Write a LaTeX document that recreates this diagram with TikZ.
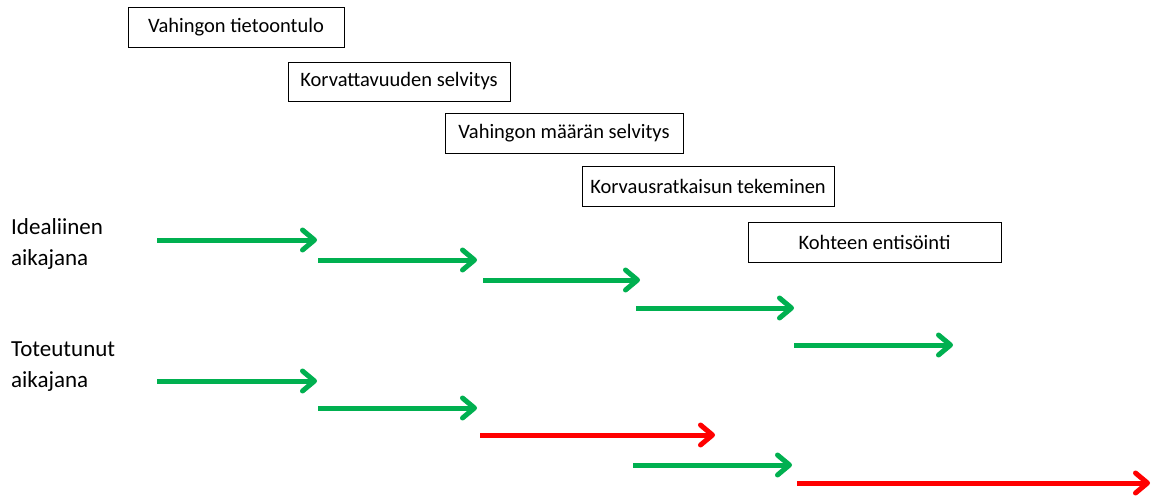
\documentclass[tikz,border=0pt]{standalone}
\usepackage{fontspec}
\setmainfont{Carlito}
\usetikzlibrary{arrows.meta}
\definecolor{ggreen}{RGB}{0,176,80}
\definecolor{rred}{RGB}{255,0,0}
\begin{document}
\begin{tikzpicture}[x=1pt,y=-1pt,
  stepbox/.style={draw=black,line width=0.9pt,inner sep=0pt,font=\fontsize{20.5}{22}\selectfont},
  lbl/.style={anchor=north west,align=left,inner sep=0pt,font=\fontsize{23}{31}\selectfont},
  arr/.style={line width=5pt,-{Straight Barb[length=12pt,width=20pt,round]}},
  ok/.style={arr,draw=ggreen},
  late/.style={arr,draw=rred}]
\useasboundingbox (0,0) rectangle (1156,496);
% boxes
\node[stepbox,minimum width=216pt,minimum height=40pt] (b1) at (236,27.5) {Vahingon tietoontulo};
\node[stepbox,minimum width=222pt,minimum height=39pt] (b2) at (399,81.5) {Korvattavuuden selvitys};
\node[stepbox,minimum width=238pt,minimum height=40pt] (b3) at (564,133) {Vahingon määrän selvitys};
\node[stepbox,minimum width=252pt,minimum height=40pt] (b4) at (708,186) {Korvausratkaisun tekeminen};
\node[stepbox,minimum width=253pt,minimum height=40pt] (b5) at (874.5,242) {Kohteen entisöinti};
% labels
\node[lbl] (l1) at (11,218) {Idealiinen\\aikajana};
\node[lbl] (l2) at (11,342) {Toteutunut\\aikajana};
% ideal timeline
\coordinate (i1s) at (157,240); \coordinate (i1e) at (317,240);
\coordinate (i2s) at (318,260); \coordinate (i2e) at (477,260);
\coordinate (i3s) at (483,280); \coordinate (i3e) at (640,280);
\coordinate (i4s) at (636,308); \coordinate (i4e) at (794,308);
\coordinate (i5s) at (794,345); \coordinate (i5e) at (953,345);
\draw[ok] (i1s) -- (i1e);
\draw[ok] (i2s) -- (i2e);
\draw[ok] (i3s) -- (i3e);
\draw[ok] (i4s) -- (i4e);
\draw[ok] (i5s) -- (i5e);
% real timeline
\coordinate (r1s) at (157,381); \coordinate (r1e) at (317,381);
\coordinate (r2s) at (318,408); \coordinate (r2e) at (477,408);
\coordinate (r3s) at (480,435); \coordinate (r3e) at (715,435);
\coordinate (r4s) at (633,465); \coordinate (r4e) at (792,465);
\coordinate (r5s) at (797,483); \coordinate (r5e) at (1150,483);
\draw[ok] (r1s) -- (r1e);
\draw[ok] (r2s) -- (r2e);
\draw[late] (r3s) -- (r3e);
\draw[ok] (r4s) -- (r4e);
\draw[late] (r5s) -- (r5e);
\end{tikzpicture}
\end{document}
